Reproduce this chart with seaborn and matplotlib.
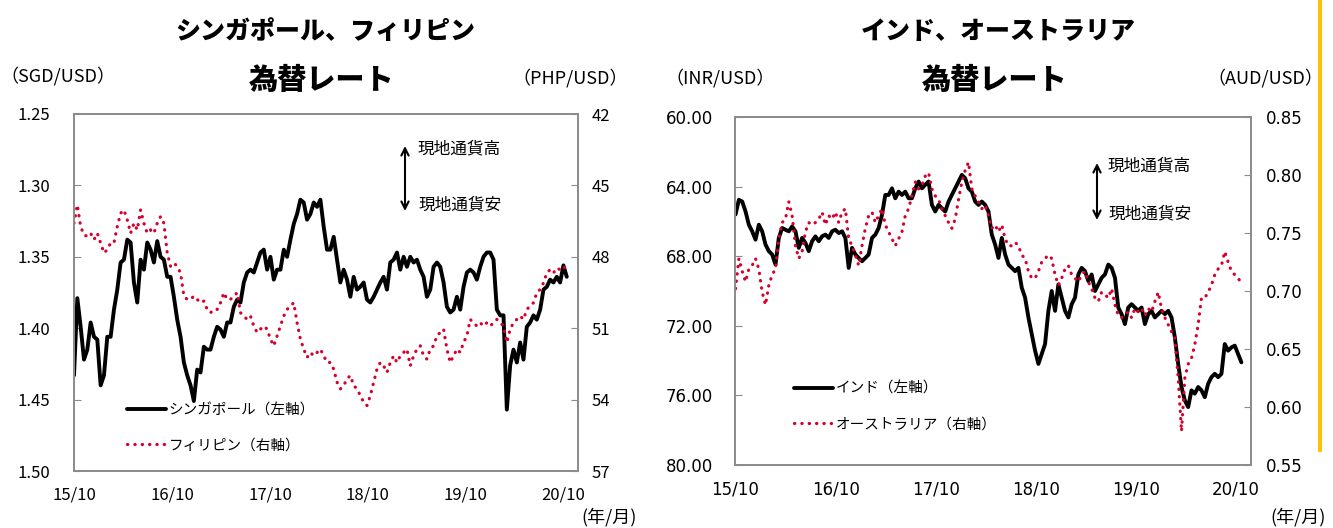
import matplotlib
matplotlib.use("Agg")
import matplotlib.pyplot as plt
import pandas as pd
import seaborn as sns
from matplotlib.lines import Line2D
from matplotlib.patches import Rectangle

sns.set_style("white")
plt.rcParams["font.family"] = ["Noto Sans CJK JP", "DejaVu Sans"]
plt.rcParams["text.color"] = "black"
plt.rcParams["xtick.labelcolor"] = "black"
plt.rcParams["ytick.labelcolor"] = "black"

# ── data ─────────────────────────────────────────────────────────────────────
sgd = [1.433, 1.379, 1.399, 1.422, 1.415, 1.396, 1.406, 1.408, 1.440, 1.433,
       1.406, 1.406, 1.387, 1.373, 1.354, 1.352, 1.338, 1.340, 1.368, 1.382,
       1.352, 1.359, 1.340, 1.345, 1.354, 1.339, 1.350, 1.352, 1.364, 1.364,
       1.378, 1.394, 1.406, 1.424, 1.433, 1.440, 1.451, 1.429, 1.431, 1.413,
       1.415, 1.415, 1.406, 1.399, 1.401, 1.406, 1.396, 1.396, 1.385, 1.380,
       1.382, 1.368, 1.361, 1.359, 1.361, 1.354, 1.347, 1.345, 1.359, 1.350,
       1.366, 1.359, 1.359, 1.345, 1.350, 1.338, 1.327, 1.320, 1.310, 1.312,
       1.324, 1.320, 1.312, 1.315, 1.310, 1.329, 1.345,
       1.345, 1.336, 1.352, 1.368, 1.359, 1.366, 1.378, 1.364, 1.373, 1.371,
       1.368, 1.380, 1.382, 1.378, 1.373, 1.368, 1.364, 1.373, 1.354, 1.352,
       1.347, 1.359, 1.350, 1.357, 1.350, 1.354, 1.352, 1.359, 1.364, 1.378,
       1.373, 1.357, 1.354, 1.357, 1.368, 1.385, 1.389, 1.387, 1.378, 1.387,
       1.371, 1.361, 1.359, 1.361, 1.366, 1.357, 1.350, 1.347, 1.347, 1.352,
       1.387, 1.391, 1.391, 1.457, 1.426, 1.415, 1.424, 1.410, 1.422, 1.399,
       1.396, 1.391, 1.394, 1.387, 1.373, 1.371, 1.366, 1.368, 1.364, 1.368,
       1.356, 1.364]

php = [46.59, 45.82, 46.73, 47.08, 47.14, 47.01, 47.28, 47.01, 47.42, 47.84,
       47.70, 47.42, 47.42, 46.73, 46.17, 46.03, 46.45, 47.01, 46.59, 46.87,
       46.03, 46.59, 47.01, 46.87, 47.01, 46.59, 46.31, 46.59, 47.84, 48.40,
       48.26, 48.40, 48.68, 49.65, 49.79, 49.79, 49.65, 49.79, 49.93, 49.86,
       50.21, 50.35, 50.21, 50.21, 49.93, 49.51, 49.79, 49.79, 49.65, 49.51,
       50.35, 50.49, 50.63, 50.49, 50.91, 51.18, 51.04, 50.91, 51.04, 51.46,
       51.74, 51.32, 50.91, 50.49, 50.21, 50.07, 49.93, 50.77, 51.46, 51.88,
       52.23, 52.02, 52.16, 52.02, 51.88, 52.16, 52.44,
       52.44, 52.72, 53.27, 53.55, 53.41, 53.13, 52.99, 53.41, 53.55, 53.83,
       54.11, 54.25, 53.83, 53.27, 52.72, 52.44, 52.58, 52.86, 52.44, 52.16,
       52.44, 52.16, 52.02, 51.88, 52.58, 52.16, 51.88, 51.74, 52.16, 52.30,
       51.88, 51.74, 51.32, 51.18, 51.04, 51.88, 52.44, 52.16, 51.88, 52.02,
       51.60, 51.32, 50.63, 50.77, 50.91, 50.77, 50.91, 50.77, 50.91, 50.77,
       50.63, 50.77, 50.91, 51.60, 51.04, 50.77, 50.63, 50.49, 50.63, 50.21,
       50.07, 49.93, 49.51, 49.37, 49.10, 48.68, 48.54, 48.68, 48.47, 48.54,
       48.40, 48.54]

inr = [65.60, 64.76, 64.86, 65.43, 66.19, 66.57, 67.05, 66.19, 66.57, 67.33,
       67.71, 67.90, 68.48, 66.95, 66.38, 66.48, 66.57, 66.29, 66.57, 67.52,
       66.95, 67.24, 67.71, 67.14, 66.86, 67.14, 66.86, 66.76, 66.95, 66.57,
       66.48, 66.67, 66.57, 66.95, 68.67, 67.52, 67.90, 68.10, 68.29, 68.10,
       67.90, 66.95, 66.76, 66.38, 65.62, 64.48, 64.48, 64.10, 64.67, 64.29,
       64.48, 64.29, 64.67, 64.67, 64.10, 63.71, 64.10, 63.90, 63.71, 65.05,
       65.43, 65.05, 65.24, 65.43, 64.86, 64.48, 64.10, 63.71, 63.33, 63.52,
       64.10, 64.29, 64.86, 65.05, 64.86, 65.05, 65.43, 66.76,
       67.33, 68.10, 66.95, 67.90, 68.48, 68.67, 68.86, 68.67, 69.81, 70.38,
       71.52, 72.48, 73.43, 74.19, 73.62, 73.05, 71.14, 70.00, 71.14, 69.62,
       70.38, 71.14, 71.52, 70.76, 70.38, 69.05, 68.67, 68.86, 69.43, 69.05,
       70.00, 69.62, 69.24, 69.05, 68.48, 68.67, 69.24, 70.95, 71.33, 71.90,
       70.95, 70.76, 70.95, 71.14, 70.95, 71.90, 71.33, 71.14, 71.52, 71.33,
       71.14, 71.33, 71.14, 71.52, 72.67, 74.19, 75.52, 76.29, 76.67, 75.71,
       75.90, 75.52, 75.71, 76.10, 75.33, 74.95, 74.76, 74.95, 74.76, 73.05,
       73.43, 73.24, 73.14, 73.62, 74.10]

aud = [0.702, 0.728, 0.717, 0.708, 0.719, 0.722, 0.728, 0.719, 0.699, 0.688,
       0.705, 0.714, 0.719, 0.745, 0.759, 0.762, 0.777, 0.765, 0.739, 0.728,
       0.734, 0.751, 0.759, 0.757, 0.759, 0.762, 0.768, 0.757, 0.765, 0.762,
       0.768, 0.759, 0.768, 0.771, 0.745, 0.739, 0.731, 0.722, 0.739, 0.754,
       0.765, 0.768, 0.759, 0.765, 0.771, 0.757, 0.751, 0.745, 0.739, 0.745,
       0.751, 0.765, 0.771, 0.782, 0.794, 0.788, 0.791, 0.799, 0.802, 0.788,
       0.782, 0.779, 0.771, 0.765, 0.759, 0.754, 0.762, 0.779, 0.794, 0.804,
       0.811, 0.788, 0.782, 0.777, 0.771, 0.774, 0.765, 0.754,
       0.757, 0.751, 0.757, 0.745, 0.739, 0.739, 0.742, 0.739, 0.731, 0.728,
       0.717, 0.711, 0.711, 0.717, 0.725, 0.728, 0.731, 0.728, 0.714, 0.705,
       0.711, 0.719, 0.722, 0.714, 0.711, 0.708, 0.714, 0.717, 0.708, 0.702,
       0.694, 0.691, 0.699, 0.697, 0.694, 0.702, 0.688, 0.679, 0.677, 0.679,
       0.682, 0.677, 0.685, 0.682, 0.685, 0.679, 0.685, 0.682, 0.691, 0.699,
       0.685, 0.677, 0.671, 0.665, 0.659, 0.625, 0.579, 0.625, 0.637, 0.642,
       0.654, 0.671, 0.694, 0.694, 0.699, 0.705, 0.714, 0.719, 0.722, 0.734,
       0.725, 0.717, 0.714, 0.711, 0.707]

tick_labels = ["15/10", "16/10", "17/10", "18/10", "19/10", "20/10"]
sgd_ticks = [1.25, 1.30, 1.35, 1.40, 1.45, 1.50]
php_ticks = [42, 45, 48, 51, 54, 57]
inr_ticks = [60, 64, 68, 72, 76, 80]
aud_ticks = [0.55, 0.60, 0.65, 0.70, 0.75, 0.80, 0.85]

dates_l = pd.date_range("2015-09-29", "2020-10-14", periods=len(sgd))
dates_r = pd.date_range("2015-10-01", "2020-10-21", periods=len(inr))
tick_dates = pd.to_datetime(["20" + t[:2] + "-" + t[3:] + "-01" for t in tick_labels])

RED = "#d7002d"
GREY = "#8c8c8c"
DOT = (0, (0.1, 2.2))

W, H = 1333, 528
fig = plt.figure(figsize=(W / 100, H / 100), dpi=100)


def box(x0, y0, x1, y1):
    return [x0 / W, 1 - y1 / H, (x1 - x0) / W, (y1 - y0) / H]


def fx(x):
    return x / W


def fy(y):
    return 1 - y / H


def style_axes(ax, axb, left_pad, right_pad, num_font):
    for a in (ax, axb):
        for sp in a.spines.values():
            sp.set_color(GREY)
            sp.set_linewidth(1.3)
        a.set_xlabel("")
        a.set_ylabel("")
    ax.set_xticks(tick_dates, labels=tick_labels)
    ax.tick_params(axis="x", length=0, pad=11, labelsize=12,
                   labelfontfamily=num_font, labelcolor="black")
    ax.tick_params(axis="y", direction="in", length=5, color=GREY,
                   pad=left_pad, labelsize=12, labelfontfamily=num_font,
                   labelcolor="black")
    axb.tick_params(axis="y", direction="in", length=5, color=GREY,
                    pad=right_pad, labelsize=12, labelfontfamily=num_font,
                    labelcolor="black")
    ax.set_xlim(pd.Timestamp("2015-09-29"), pd.Timestamp("2020-11-25"))


# ── left: Singapore / Philippines ────────────────────────────────────────────
ax1 = fig.add_axes(box(74, 114, 578, 471))
ax1b = ax1.twinx()
sns.lineplot(x=dates_l, y=sgd, ax=ax1, color="black", linewidth=2.8,
             estimator=None)
sns.lineplot(x=dates_l, y=php, ax=ax1b, color=RED, linewidth=2.3,
             linestyle=DOT, dash_capstyle="round", estimator=None)
ax1.set_ylim(1.50, 1.25)
ax1.set_yticks(sgd_ticks, labels=[f"{v:.2f}" for v in sgd_ticks])
ax1b.set_ylim(57, 42)
ax1b.set_yticks(php_ticks, labels=[str(v) for v in php_ticks])
style_axes(ax1, ax1b, 17, 10, "Noto Sans CJK JP")

# ── right: India / Australia ─────────────────────────────────────────────────
ax2 = fig.add_axes(box(735, 117, 1251, 465))
ax2b = ax2.twinx()
sns.lineplot(x=dates_r, y=inr, ax=ax2, color="black", linewidth=2.8,
             estimator=None)
sns.lineplot(x=dates_r, y=aud, ax=ax2b, color=RED, linewidth=2.3,
             linestyle=DOT, dash_capstyle="round", estimator=None)
ax2.set_ylim(80, 60)
ax2.set_yticks(inr_ticks, labels=[f"{v:.2f}" for v in inr_ticks])
ax2b.set_ylim(0.55, 0.85)
ax2b.set_yticks(aud_ticks, labels=[f"{v:.2f}" for v in aud_ticks])
style_axes(ax2, ax2b, 16, 11, "DejaVu Sans")

# ── legends ──────────────────────────────────────────────────────────────────
def add_legend(axb, labels, x, y):
    handles = [Line2D([], [], color="black", lw=2.8),
               Line2D([], [], color=RED, lw=2.3, ls=DOT, dash_capstyle="round")]
    axb.legend(handles, labels, loc="upper left", bbox_to_anchor=(fx(x), fy(y)),
               bbox_transform=fig.transFigure, frameon=False, fontsize=10.5,
               handlelength=2.7, handletextpad=0.15, labelspacing=1.45,
               borderpad=0, borderaxespad=0, labelcolor="black")


add_legend(ax1b, ["シンガポール（左軸）", "フィリピン（右軸）"], 127, 403)
add_legend(ax2b, ["インド（左軸）", "オーストラリア（右軸）"], 794, 382)

# ── titles and labels ────────────────────────────────────────────────────────
for cx, name in [(325, "シンガポール、フィリピン"), (998, "インド、オーストラリア")]:
    fig.text(fx(cx), fy(31), name, ha="center", va="center",
             fontsize=18, fontweight="black")
    fig.text(fx(cx - 3), fy(80), "為替レート", ha="center", va="center",
             fontsize=21, fontweight="black")

unit_kw = dict(va="center", fontsize=13)
fig.text(fx(0), fy(76), "（SGD/USD）", ha="left", **unit_kw)
fig.text(fx(628), fy(78), "（PHP/USD）", ha="right", **unit_kw)
fig.text(fx(665), fy(78), "（INR/USD）", ha="left", **unit_kw)
fig.text(fx(1323), fy(78), "（AUD/USD）", ha="right", **unit_kw)
fig.text(fx(637), fy(517), "(年/月)", ha="right", va="center", fontsize=13)
fig.text(fx(1326), fy(517), "(年/月)", ha="right", va="center", fontsize=13)

# ── 現地通貨高／安 arrows ───────────────────────────────────────────────────
for ax_, x, y0, y1, tx in [(ax1b, 405, 146, 211, 418), (ax2b, 1097, 163, 220, 1108)]:
    ax_.annotate("", xy=(fx(x), fy(y0)), xytext=(fx(x), fy(y1)),
                 xycoords="figure fraction", textcoords="figure fraction",
                 arrowprops=dict(arrowstyle="<->", color="black", lw=1.5,
                                 mutation_scale=13, shrinkA=0, shrinkB=0))
    fig.text(fx(tx), fy(y0 + 3), "現地通貨高", ha="left", va="center", fontsize=12)
    fig.text(fx(tx + 1), fy(y1 - 6), "現地通貨安", ha="left", va="center", fontsize=12)

# yellow edge bar
fig.add_artist(Rectangle((fx(1318), fy(452)), 4 / W, 452 / H,
                         transform=fig.transFigure, color="#ffc000", lw=0))

fig.savefig("out.png", dpi=100)
